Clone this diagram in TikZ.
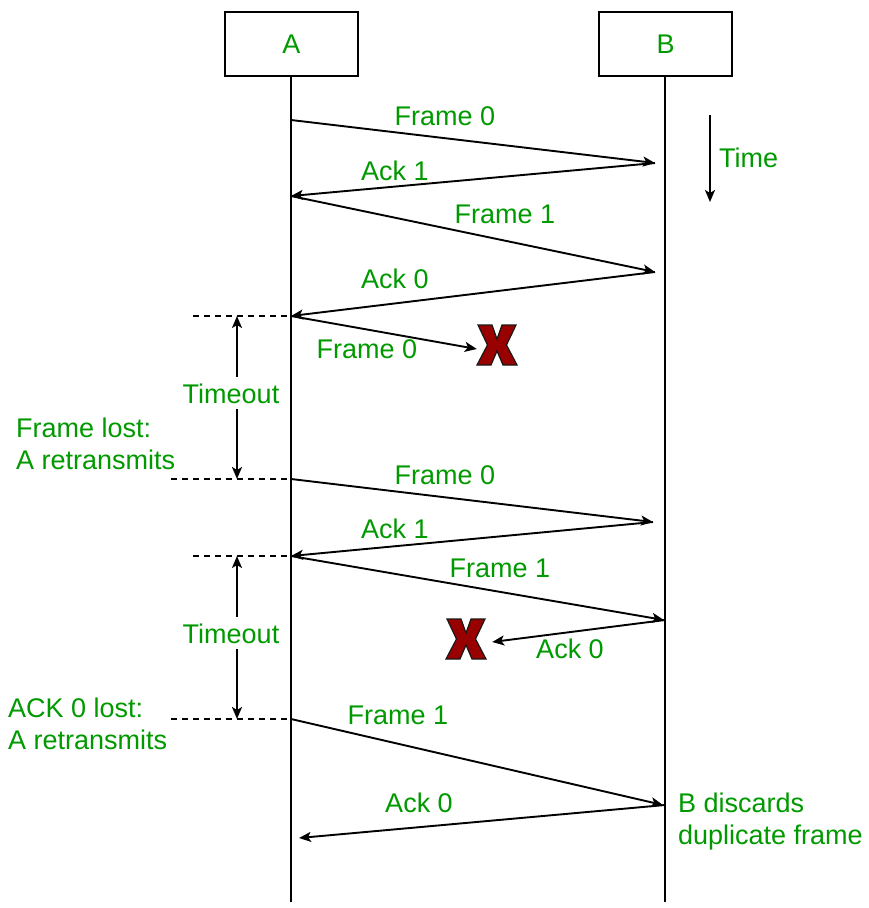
\documentclass[tikz,border=0pt]{standalone}
\usepackage{fontspec}
\setmainfont{Liberation Sans}
\usetikzlibrary{arrows.meta,calc}
\definecolor{lblgreen}{HTML}{009900}
\definecolor{xred}{HTML}{990000}
\begin{document}
\begin{tikzpicture}[x=1pt,y=-1pt,
  every node/.style={font=\fontsize{27}{31.5}\selectfont},
  lbl/.style={text=lblgreen, inner sep=0pt, anchor=base},
  sidelbl/.style={text=lblgreen, inner sep=0pt, anchor=north west, align=left},
  party/.style={draw, line width=1.9pt, minimum width=133pt, minimum height=64pt, inner sep=0pt, text=lblgreen},
  life/.style={line width=1.9pt},
  msg/.style={line width=1.9pt, -{Stealth[length=12pt,width=10pt,inset=3pt]}},
  span/.style={line width=1.9pt, {Stealth[length=12pt,width=10pt,inset=3pt]}-{Stealth[length=12pt,width=10pt,inset=3pt]}},
  guide/.style={line width=1.7pt, dash pattern=on 6pt off 5pt},
  xbox/.style={minimum width=40pt, minimum height=40pt, inner sep=0pt},
  cross/.pic={\draw[fill=xred, draw=black!90, line width=1.2pt, line join=miter]
     (-19,-20) -- (-5,-20) -- (0,-6) -- (5,-20) -- (19,-20) -- (9.5,0) -- (20,20) -- (6,20)
     -- (0,6) -- (-6,20) -- (-20,20) -- (-9.5,0) -- cycle;}
]
\useasboundingbox (0,0) rectangle (869,908);

% parties
\node[party] (A) at (291.5,44) {A};
\node[party] (B) at (665.5,44) {B};
\coordinate (Aend) at (291,902);
\coordinate (Bend) at (665,902);
\draw[life] (A.south -| Aend) -- (Aend);
\draw[life] (B.south -| Bend) -- (Bend);

% time arrow
\coordinate (time1) at (710,115);
\coordinate (time2) at (710,202);
\draw[msg] (time1) -- (time2);
\node[lbl, anchor=base west] (timelbl) at (719,167) {Time};

% lifeline points
\coordinate (a1) at (291,120);
\coordinate (b1) at (655,163);
\coordinate (a2) at (291,196);
\coordinate (b2) at (655,272);
\coordinate (a3) at (291,316);
\coordinate (a4) at (291,479);
\coordinate (b4) at (653,522);
\coordinate (a5) at (291,556);
\coordinate (b5) at (664,620);
\coordinate (b5s) at (665,620);
\coordinate (a6) at (291,719);
\coordinate (b6) at (663,805);
\coordinate (b6s) at (665,805);
\coordinate (a7) at (299,838);

% lost marks
\node[xbox] (x1) at (497,345) {};
\pic at (x1) {cross};
\node[xbox] (x2) at (466,639) {};
\pic at (x2) {cross};

% messages
\draw[msg] (a1) -- (b1);
\node[lbl] (m1) at (445,125) {Frame 0};
\draw[msg] (b1) -- (a2);
\node[lbl] (m2) at (395,180) {Ack 1};
\draw[msg] (a2) -- (b2);
\node[lbl] (m3) at (505,223) {Frame 1};
\draw[msg] (b2) -- (a3);
\node[lbl] (m4) at (395,288) {Ack 0};
\draw[msg] (a3) -- ($(x1.west)+(0,4)$);
\node[lbl] (m5) at (367,358) {Frame 0};

\draw[msg] (a4) -- (b4);
\node[lbl] (m6) at (445,484) {Frame 0};
\draw[msg] (b4) -- (a5);
\node[lbl] (m7) at (395,538) {Ack 1};
\draw[msg] (a5) -- (b5);
\node[lbl] (m8) at (500,577) {Frame 1};
\draw[msg] (b5s) -- ($(x2.east)+(6,3)$);
\node[lbl] (m9) at (570,658) {Ack 0};

\draw[msg] (a6) -- (b6);
\node[lbl] (m10) at (398,724) {Frame 1};
\draw[msg] (b6s) -- (a7);
\node[lbl] (m11) at (419,812) {Ack 0};

% timeouts
\coordinate (d1) at (193,316);
\coordinate (d2) at (171,479);
\coordinate (d3) at (193,556);
\coordinate (d4) at (171,719);
\draw[guide] (d1) -- (a3);
\draw[guide] (d2) -- (a4);
\draw[guide] (d3) -- (a5);
\draw[guide] (d4) -- (a6);

\coordinate (t1a) at (237,316);
\coordinate (t1b) at (237,479);
\coordinate (t2a) at (237,556);
\coordinate (t2b) at (237,719);
\draw[span] (t1a) -- (t1b);
\draw[span] (t2a) -- (t2b);
\node[lbl, fill=white, inner xsep=2pt, inner ysep=6pt] (to1) at (231,403) {Timeout};
\node[lbl, fill=white, inner xsep=2pt, inner ysep=6pt] (to2) at (231,643) {Timeout};

% side notes
\node[sidelbl] (n1) at (16,418) {Frame lost:\\A retransmits};
\node[sidelbl] (n2) at (8,698) {ACK 0 lost:\\A retransmits};
\node[sidelbl] (n3) at (678,793) {B discards\\duplicate frame};
\end{tikzpicture}
\end{document}
